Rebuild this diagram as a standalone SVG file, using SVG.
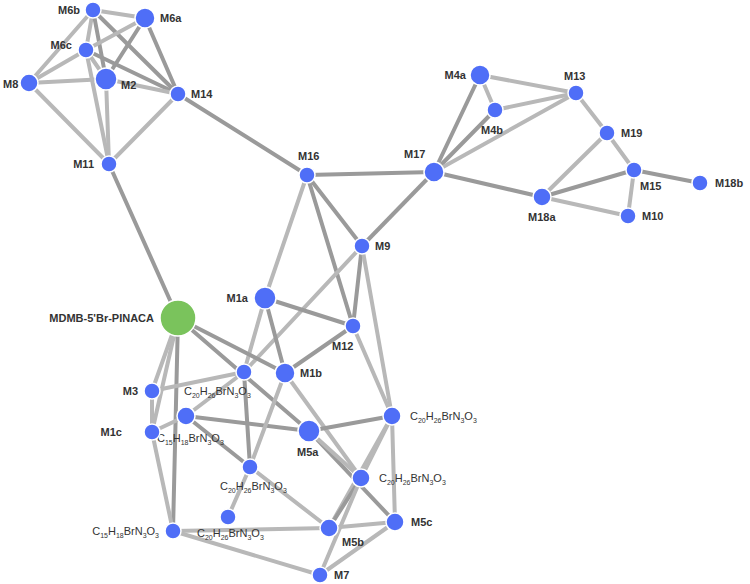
<svg xmlns="http://www.w3.org/2000/svg" width="750" height="584" viewBox="0 0 750 584">
<style>
.e{stroke:#b8b8b8;stroke-width:4;stroke-linecap:round}
.d{stroke:#9a9a9a}
.n{fill:#4f6ef7;stroke:#fff;stroke-width:1.5}
.b{font-family:"Liberation Sans",Arial,sans-serif;font-weight:bold;font-size:11px;fill:#333}
.f{font-family:"Liberation Sans",Arial,sans-serif;font-size:11px;fill:#333}
.s{font-size:7px}
</style>
<rect width="750" height="584" fill="#fff"/>
<g id="connectors">
<line class="e" x1="93" y1="10" x2="145" y2="18"/>
<line class="e" x1="93" y1="10" x2="86" y2="50"/>
<line class="e d" x1="93" y1="10" x2="106" y2="79"/>
<line class="e d" x1="93" y1="10" x2="178" y2="94"/>
<line class="e" x1="93" y1="10" x2="29" y2="83"/>
<line class="e" x1="145" y1="18" x2="86" y2="50"/>
<line class="e d" x1="145" y1="18" x2="178" y2="94"/>
<line class="e d" x1="145" y1="18" x2="106" y2="79"/>
<line class="e" x1="86" y1="50" x2="29" y2="83"/>
<line class="e" x1="86" y1="50" x2="106" y2="79"/>
<line class="e d" x1="86" y1="50" x2="178" y2="94"/>
<line class="e" x1="86" y1="50" x2="109" y2="164"/>
<line class="e" x1="29" y1="83" x2="106" y2="79"/>
<line class="e" x1="29" y1="83" x2="109" y2="164"/>
<line class="e" x1="106" y1="79" x2="109" y2="164"/>
<line class="e" x1="106" y1="79" x2="178" y2="94"/>
<line class="e" x1="178" y1="94" x2="109" y2="164"/>
<line class="e d" x1="178" y1="94" x2="307" y2="175"/>
<line class="e d" x1="109" y1="164" x2="178" y2="318"/>
<line class="e d" x1="307" y1="175" x2="434" y2="172"/>
<line class="e" x1="307" y1="175" x2="265" y2="298"/>
<line class="e d" x1="307" y1="175" x2="362" y2="246"/>
<line class="e d" x1="307" y1="175" x2="353" y2="326"/>
<line class="e d" x1="434" y1="172" x2="480" y2="75"/>
<line class="e d" x1="434" y1="172" x2="495" y2="110"/>
<line class="e" x1="434" y1="172" x2="576" y2="93"/>
<line class="e d" x1="434" y1="172" x2="542" y2="197"/>
<line class="e d" x1="434" y1="172" x2="362" y2="246"/>
<line class="e" x1="480" y1="75" x2="576" y2="93"/>
<line class="e" x1="480" y1="75" x2="495" y2="110"/>
<line class="e" x1="495" y1="110" x2="576" y2="93"/>
<line class="e" x1="576" y1="93" x2="607" y2="133"/>
<line class="e" x1="607" y1="133" x2="634" y2="170"/>
<line class="e" x1="607" y1="133" x2="542" y2="197"/>
<line class="e d" x1="634" y1="170" x2="542" y2="197"/>
<line class="e d" x1="634" y1="170" x2="700" y2="183"/>
<line class="e" x1="634" y1="170" x2="628" y2="216"/>
<line class="e" x1="542" y1="197" x2="628" y2="216"/>
<line class="e d" x1="362" y1="246" x2="353" y2="326"/>
<line class="e" x1="362" y1="246" x2="244" y2="372"/>
<line class="e" x1="362" y1="246" x2="392" y2="416"/>
<line class="e d" x1="265" y1="298" x2="285" y2="373"/>
<line class="e d" x1="265" y1="298" x2="353" y2="326"/>
<line class="e" x1="265" y1="298" x2="244" y2="372"/>
<line class="e" x1="353" y1="326" x2="392" y2="416"/>
<line class="e d" x1="353" y1="326" x2="285" y2="373"/>
<line class="e" x1="178" y1="318" x2="152" y2="391"/>
<line class="e" x1="178" y1="318" x2="152" y2="432"/>
<line class="e d" x1="178" y1="318" x2="309" y2="431"/>
<line class="e d" x1="178" y1="318" x2="285" y2="373"/>
<line class="e d" x1="178" y1="318" x2="173" y2="531"/>
<line class="e" x1="244" y1="372" x2="152" y2="391"/>
<line class="e" x1="244" y1="372" x2="186" y2="416"/>
<line class="e d" x1="244" y1="372" x2="250" y2="467"/>
<line class="e" x1="152" y1="391" x2="152" y2="432"/>
<line class="e" x1="152" y1="432" x2="186" y2="416"/>
<line class="e" x1="152" y1="432" x2="173" y2="531"/>
<line class="e d" x1="186" y1="416" x2="309" y2="431"/>
<line class="e d" x1="186" y1="416" x2="250" y2="467"/>
<line class="e" x1="285" y1="373" x2="250" y2="467"/>
<line class="e" x1="285" y1="373" x2="361" y2="478"/>
<line class="e d" x1="309" y1="431" x2="392" y2="416"/>
<line class="e d" x1="309" y1="431" x2="395" y2="522"/>
<line class="e" x1="309" y1="431" x2="361" y2="478"/>
<line class="e" x1="392" y1="416" x2="361" y2="478"/>
<line class="e" x1="392" y1="416" x2="395" y2="522"/>
<line class="e" x1="392" y1="416" x2="329" y2="528"/>
<line class="e d" x1="361" y1="478" x2="329" y2="528"/>
<line class="e" x1="361" y1="478" x2="320" y2="575"/>
<line class="e" x1="329" y1="528" x2="395" y2="522"/>
<line class="e" x1="250" y1="467" x2="329" y2="528"/>
<line class="e" x1="250" y1="467" x2="228" y2="517"/>
<line class="e" x1="173" y1="531" x2="329" y2="528"/>
<line class="e" x1="173" y1="531" x2="320" y2="575"/>
<line class="e" x1="320" y1="575" x2="395" y2="522"/>
</g>
<g id="M6b"><circle class="n" cx="93" cy="10" r="8"/><text class="b" x="80" y="14" text-anchor="end">M6b</text></g>
<g id="M6a"><circle class="n" cx="145" cy="18" r="10"/><text class="b" x="160" y="22">M6a</text></g>
<g id="M6c"><circle class="n" cx="86" cy="50" r="8"/><text class="b" x="72" y="49" text-anchor="end">M6c</text></g>
<g id="M2"><circle class="n" cx="106" cy="79" r="11"/><text class="b" x="121" y="89">M2</text></g>
<g id="M8"><circle class="n" cx="29" cy="83" r="9"/><text class="b" x="3" y="88">M8</text></g>
<g id="M14"><circle class="n" cx="178" cy="94" r="8"/><text class="b" x="191" y="98">M14</text></g>
<g id="M11"><circle class="n" cx="109" cy="164" r="8"/><text class="b" x="94" y="168" text-anchor="end">M11</text></g>
<g id="M16"><circle class="n" cx="307" cy="175" r="8"/><text class="b" x="298" y="160">M16</text></g>
<g id="M17"><circle class="n" cx="434" cy="172" r="10"/><text class="b" x="404" y="158">M17</text></g>
<g id="M4a"><circle class="n" cx="480" cy="75" r="10"/><text class="b" x="466" y="79" text-anchor="end">M4a</text></g>
<g id="M4b"><circle class="n" cx="495" cy="110" r="8"/><text class="b" x="481" y="134">M4b</text></g>
<g id="M13"><circle class="n" cx="576" cy="93" r="8"/><text class="b" x="564" y="80">M13</text></g>
<g id="M19"><circle class="n" cx="607" cy="133" r="8"/><text class="b" x="621" y="137">M19</text></g>
<g id="M15"><circle class="n" cx="634" cy="170" r="8"/><text class="b" x="640" y="190">M15</text></g>
<g id="M18b"><circle class="n" cx="700" cy="183" r="8"/><text class="b" x="715" y="187">M18b</text></g>
<g id="M18a"><circle class="n" cx="542" cy="197" r="9"/><text class="b" x="528" y="221">M18a</text></g>
<g id="M10"><circle class="n" cx="628" cy="216" r="8"/><text class="b" x="642" y="220">M10</text></g>
<g id="M9"><circle class="n" cx="362" cy="246" r="8"/><text class="b" x="375" y="250">M9</text></g>
<g id="M1a"><circle class="n" cx="265" cy="298" r="11"/><text class="b" x="248" y="302" text-anchor="end">M1a</text></g>
<g id="M12"><circle class="n" cx="353" cy="326" r="8"/><text class="b" x="332" y="350">M12</text></g>
<g id="MDMB"><circle cx="178" cy="318" r="18" fill="#7ac35c" stroke="#fff" stroke-width="1.5"/><text class="b" x="154" y="322" text-anchor="end">MDMB-5'Br-PINACA</text></g>
<g id="M1b"><circle class="n" cx="285" cy="373" r="10"/><text class="b" x="300" y="377">M1b</text></g>
<g id="n1"><circle class="n" cx="244" cy="372" r="8"/><text class="f" x="184" y="395">C<tspan class="s" dy="3">20</tspan><tspan dy="-3">H</tspan><tspan class="s" dy="3">26</tspan><tspan dy="-3">BrN</tspan><tspan class="s" dy="3">3</tspan><tspan dy="-3">O</tspan><tspan class="s" dy="3">3</tspan></text></g>
<g id="M3"><circle class="n" cx="152" cy="391" r="8"/><text class="b" x="138" y="395" text-anchor="end">M3</text></g>
<g id="n2"><circle class="n" cx="186" cy="416" r="9"/><text class="f" x="157" y="442">C<tspan class="s" dy="3">15</tspan><tspan dy="-3">H</tspan><tspan class="s" dy="3">18</tspan><tspan dy="-3">BrN</tspan><tspan class="s" dy="3">3</tspan><tspan dy="-3">O</tspan><tspan class="s" dy="3">3</tspan></text></g>
<g id="M1c"><circle class="n" cx="152" cy="432" r="8"/><text class="b" x="122" y="436" text-anchor="end">M1c</text></g>
<g id="M5a"><circle class="n" cx="309" cy="431" r="11"/><text class="b" x="297" y="456">M5a</text></g>
<g id="n3"><circle class="n" cx="392" cy="416" r="9"/><text class="f" x="410" y="420">C<tspan class="s" dy="3">20</tspan><tspan dy="-3">H</tspan><tspan class="s" dy="3">26</tspan><tspan dy="-3">BrN</tspan><tspan class="s" dy="3">3</tspan><tspan dy="-3">O</tspan><tspan class="s" dy="3">3</tspan></text></g>
<g id="n4"><circle class="n" cx="250" cy="467" r="8"/><text class="f" x="220" y="490">C<tspan class="s" dy="3">20</tspan><tspan dy="-3">H</tspan><tspan class="s" dy="3">26</tspan><tspan dy="-3">BrN</tspan><tspan class="s" dy="3">3</tspan><tspan dy="-3">O</tspan><tspan class="s" dy="3">3</tspan></text></g>
<g id="n5"><circle class="n" cx="361" cy="478" r="9"/><text class="f" x="379" y="482">C<tspan class="s" dy="3">20</tspan><tspan dy="-3">H</tspan><tspan class="s" dy="3">26</tspan><tspan dy="-3">BrN</tspan><tspan class="s" dy="3">3</tspan><tspan dy="-3">O</tspan><tspan class="s" dy="3">3</tspan></text></g>
<g id="n6"><circle class="n" cx="228" cy="517" r="8"/><text class="f" x="197" y="537">C<tspan class="s" dy="3">20</tspan><tspan dy="-3">H</tspan><tspan class="s" dy="3">26</tspan><tspan dy="-3">BrN</tspan><tspan class="s" dy="3">3</tspan><tspan dy="-3">O</tspan><tspan class="s" dy="3">3</tspan></text></g>
<g id="M5c"><circle class="n" cx="395" cy="522" r="9"/><text class="b" x="411" y="526">M5c</text></g>
<g id="M5b"><circle class="n" cx="329" cy="528" r="9"/><text class="b" x="342" y="546">M5b</text></g>
<g id="n7"><circle class="n" cx="173" cy="531" r="8"/><text class="f" x="159" y="535" text-anchor="end">C<tspan class="s" dy="3">15</tspan><tspan dy="-3">H</tspan><tspan class="s" dy="3">18</tspan><tspan dy="-3">BrN</tspan><tspan class="s" dy="3">3</tspan><tspan dy="-3">O</tspan><tspan class="s" dy="3">3</tspan></text></g>
<g id="M7"><circle class="n" cx="320" cy="575" r="8"/><text class="b" x="334" y="579">M7</text></g>
</svg>
